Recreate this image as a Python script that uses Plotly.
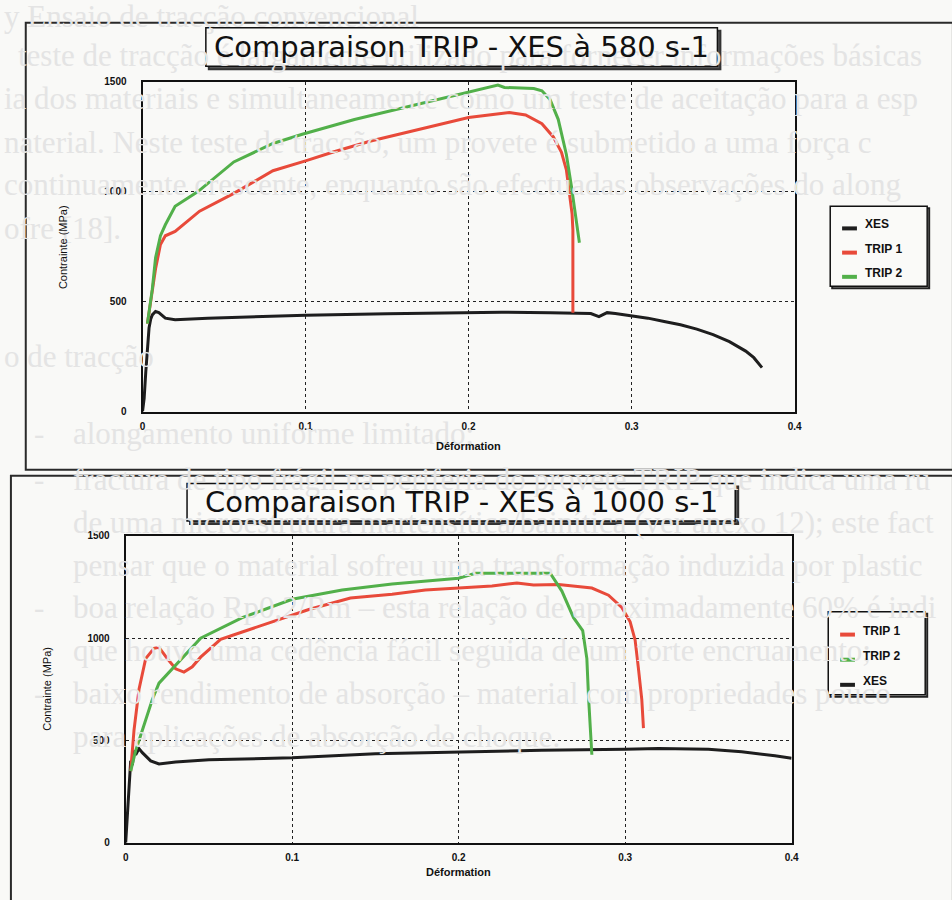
import plotly.graph_objects as go

# ---------------- data ----------------
# Top chart: 580 s-1
top_title = "Comparaison TRIP - XES à 580 s-1"
top_xes_x = [0, 0.001, 0.002, 0.003, 0.004, 0.005, 0.006, 0.008, 0.010, 0.014, 0.02, 0.04, 0.06, 0.1, 0.15,
             0.2, 0.22, 0.25, 0.27, 0.275, 0.28, 0.285, 0.29, 0.3, 0.31, 0.32, 0.33, 0.34, 0.35, 0.36, 0.37,
             0.375, 0.38]
top_xes_y = [0, 60, 180, 300, 380, 420, 440, 455, 450, 425, 418, 425, 430, 438, 445,
             452, 452, 449, 447, 446, 432, 450, 446, 436, 425, 410, 395, 375, 350, 318, 275,
             245, 200]
top_trip1_x = [0.003, 0.005, 0.008, 0.011, 0.014, 0.02, 0.035, 0.056, 0.08, 0.1, 0.117, 0.14, 0.17, 0.2,
               0.215, 0.225, 0.235, 0.245, 0.252, 0.257, 0.26, 0.262, 0.2635, 0.264, 0.264]
top_trip1_y = [400, 500, 650, 760, 800, 820, 912, 993, 1096, 1141, 1181, 1231, 1284, 1338,
               1352, 1361, 1350, 1310, 1250, 1180, 1100, 993, 900, 826, 450]
top_trip2_x = [0.003, 0.006, 0.008, 0.011, 0.014, 0.02, 0.034, 0.056, 0.08, 0.098, 0.13, 0.16, 0.2, 0.21,
               0.218, 0.222, 0.24, 0.245, 0.25, 0.255, 0.26, 0.263, 0.266, 0.268]
top_trip2_y = [400, 557, 700, 800, 850, 934, 1001, 1136, 1220, 1262, 1329, 1383, 1455, 1470,
               1486, 1475, 1470, 1460, 1420, 1330, 1170, 1030, 880, 768]

# Bottom chart: 1000 s-1
bot_title = "Comparaison TRIP - XES à 1000 s-1"
bot_trip1_x = [0.003, 0.005, 0.008, 0.012, 0.017, 0.02, 0.025, 0.03, 0.035, 0.04, 0.045, 0.057, 0.07, 0.09,
               0.11, 0.135, 0.16, 0.18, 0.2, 0.22, 0.235, 0.245, 0.26, 0.27, 0.28, 0.29, 0.298, 0.303,
               0.306, 0.308, 0.31, 0.311]
bot_trip1_y = [350, 550, 750, 900, 950, 955, 900, 850, 834, 860, 907, 994, 1030, 1085,
               1140, 1196, 1215, 1235, 1245, 1255, 1270, 1260, 1262, 1255, 1245, 1210, 1150, 1080,
               990, 850, 700, 560]
bot_trip2_x = [0.003, 0.006, 0.01, 0.016, 0.02, 0.03, 0.045, 0.07, 0.1, 0.13, 0.16, 0.2, 0.21, 0.23,
               0.255, 0.262, 0.269, 0.2745, 0.277, 0.278, 0.279, 0.28]
bot_trip2_y = [350, 450, 550, 700, 780, 870, 1000, 1100, 1190, 1235, 1265, 1293, 1317, 1317,
               1317, 1230, 1100, 1037, 900, 714, 560, 430]
bot_xes_x = [0, 0.001, 0.002, 0.003, 0.004, 0.005, 0.006, 0.008, 0.01, 0.015, 0.02, 0.03, 0.05, 0.1,
             0.15, 0.2, 0.25, 0.3, 0.32, 0.35, 0.37, 0.39, 0.4]
bot_xes_y = [0, 150, 300, 400, 380, 450, 430, 460, 440, 400, 385, 395, 405, 415,
             435, 444, 452, 457, 460, 457, 445, 425, 413]

x_tickvals = [0, 0.1, 0.2, 0.3, 0.4]
x_ticktext = ["0", "0.1", "0.2", "0.3", "0.4"]
y_tickvals = [0, 500, 1000, 1500]
y_ticktext = ["0", "500", "1000", "1500"]

series_names = ["XES", "TRIP 1", "TRIP 2"]
colors = {"XES": "#1e1e1e", "TRIP 1": "#e84a3a", "TRIP 2": "#52b04a"}

# faint text of the scanned document page behind the charts: (x, y, text)
background_lines = [
    (0, 11, "y Ensaio de tracção convencional"),
    (14, 50, "teste de tracção é largamente utilizado para fornecer informações básicas"),
    (0, 94, "ia dos materiais e simultaneamente como um teste de aceitação para a esp"),
    (0, 138, "naterial. Neste teste de tracção, um provete é submetido a uma força c"),
    (0, 181, "continuamente crescente, enquanto são efectuadas observações do along"),
    (0, 225, "ofre [18]."),
    (0, 355, "o de tracção"),
    (30, 433, "-"), (70, 433, "alongamento uniforme limitado;"),
    (30, 480, "-"), (70, 480, "fractura de tipo frágil na periferia do provete TRIP que indica uma ru"),
    (70, 523, "de uma microestrutura martensítica/bainítica (ver anexo 12); este fact"),
    (70, 567, "pensar que o material sofreu uma transformação induzida por plastic"),
    (30, 610, "-"), (70, 610, "boa relação Rp0,2/Rm – esta relação de aproximadamente 60% é indi"),
    (70, 653, "que houve uma cedência fácil seguida de um forte encruamento;"),
    (30, 697, "-"), (70, 697, "baixo rendimento de absorção – material com propriedades pouco"),
    (70, 740, "para aplicações de absorção de choque."),
]

W, H = 952, 900


def px(x):
    return x / W


def py(y):
    return 1 - y / H


fig = go.Figure()

panels = [
    dict(ax="", title=top_title,
         data={"XES": (top_xes_x, top_xes_y), "TRIP 1": (top_trip1_x, top_trip1_y),
               "TRIP 2": (top_trip2_x, top_trip2_y)},
         order=["XES", "TRIP 1", "TRIP 2"],
         plot=(141, 77, 800, 411), frame=(23, 17, 960, 470), tbox=(205, 22, 722, 61),
         legend=(836, 203, 934, 284), ytitle_x=60, xtitle_y=446),
    dict(ax="2", title=bot_title,
         data={"XES": (bot_xes_x, bot_xes_y), "TRIP 1": (bot_trip1_x, bot_trip1_y),
               "TRIP 2": (bot_trip2_x, bot_trip2_y)},
         order=["TRIP 1", "TRIP 2", "XES"],
         plot=(124, 537, 797, 848), frame=(8, 476, 960, 910), tbox=(186, 484, 740, 522),
         legend=(834, 614, 932, 698), ytitle_x=45, xtitle_y=878),
]

shapes = []
annotations = []

for (bx, by, txt) in background_lines:
    annotations.append(dict(x=px(bx), y=py(by), xref="paper", yref="paper", xanchor="left", yanchor="middle",
                            text=txt, showarrow=False, borderpad=0,
                            font=dict(family="Liberation Serif", size=31, color="#e4e4e4")))

for p in panels:
    ax = p["ax"]
    x0, y0, x1, y1 = p["plot"]
    for name in ["XES", "TRIP 1", "TRIP 2"]:
        xs, ys = p["data"][name]
        fig.add_trace(go.Scatter(x=xs, y=ys, mode="lines", name=name, showlegend=False,
                                 line=dict(color=colors[name], width=3),
                                 xaxis="x" + ax, yaxis="y" + ax))
    axis_common = dict(showline=True, mirror=True, linecolor="#111", linewidth=2,
                       showgrid=True, gridcolor="#222", gridwidth=1, griddash="dot",
                       zeroline=False, ticks="", fixedrange=True,
                       tickfont=dict(family="Liberation Sans", size=10, color="#111", weight="bold"))
    fig.update_layout({
        "xaxis" + ax: dict(axis_common, domain=[px(x0), px(x1)], range=[0, 0.4],
                           tickvals=x_tickvals, ticktext=x_ticktext, anchor="y" + ax,
                           ticklabelstandoff=4),
        "yaxis" + ax: dict(axis_common, domain=[py(y1), py(y0)], range=[0, 1500],
                           tickvals=y_tickvals, ticktext=y_ticktext, anchor="x" + ax,
                           ticklabelstandoff=12),
    })
    # outer frame (scanned figure border)
    fx0, fy0, fx1, fy1 = p["frame"]
    shapes.append(dict(type="rect", xref="paper", yref="paper", x0=px(fx0), y0=py(fy0), x1=px(fx1), y1=py(fy1),
                       line=dict(color="#2a2a2a", width=2), layer="below"))
    # title box with shadow
    tx0, ty0, tx1, ty1 = p["tbox"]
    shapes.append(dict(type="rect", xref="paper", yref="paper", x0=px(tx0 + 3), y0=py(ty0 + 3), x1=px(tx1 + 3),
                       y1=py(ty1 + 3), line=dict(color="#333", width=2), fillcolor="#555", layer="below"))
    shapes.append(dict(type="rect", xref="paper", yref="paper", x0=px(tx0), y0=py(ty0), x1=px(tx1), y1=py(ty1),
                       line=dict(color="#111", width=1.5), fillcolor="#fafaf8", layer="below"))
    annotations.append(dict(x=px((tx0 + tx1) / 2), y=py((ty0 + ty1) / 2), xref="paper", yref="paper",
                            text=p["title"], showarrow=False, xanchor="center", yanchor="middle",
                            font=dict(family="DejaVu Sans", size=29, color="#111")))
    # axis titles
    annotations.append(dict(x=px(p["ytitle_x"]), y=py((y0 + y1) / 2), xref="paper", yref="paper",
                            text="Contrainte (MPa)", textangle=-90, showarrow=False,
                            xanchor="center", yanchor="middle",
                            font=dict(family="Liberation Sans", size=11, color="#111")))
    annotations.append(dict(x=px((x0 + x1) / 2), y=py(p["xtitle_y"]), xref="paper", yref="paper",
                            text="Déformation", showarrow=False, xanchor="center", yanchor="middle",
                            font=dict(family="Liberation Sans", size=11, color="#111", weight="bold")))
    # legend box
    lx0, ly0, lx1, ly1 = p["legend"]
    shapes.append(dict(type="rect", xref="paper", yref="paper", x0=px(lx0 + 2), y0=py(ly0 + 2), x1=px(lx1 + 2),
                       y1=py(ly1 + 2), line=dict(color="#222", width=2), layer="below"))
    shapes.append(dict(type="rect", xref="paper", yref="paper", x0=px(lx0), y0=py(ly0), x1=px(lx1), y1=py(ly1),
                       line=dict(color="#111", width=1.5), fillcolor="#fafaf8", layer="below"))
    step = (ly1 - ly0) / 3.3
    for i, name in enumerate(p["order"]):
        yy = ly0 + step * (i + 0.75)
        shapes.append(dict(type="line", xref="paper", yref="paper", x0=px(lx0 + 12), x1=px(lx0 + 27),
                           y0=py(yy + 4), y1=py(yy + 4), line=dict(color=colors[name], width=4)))
        annotations.append(dict(x=px(lx0 + 33), y=py(yy), xref="paper", yref="paper", text=name,
                                showarrow=False, xanchor="left", yanchor="middle",
                                font=dict(family="Liberation Sans", size=12, color="#111", weight="bold")))

fig.update_layout(width=W, height=H, margin=dict(l=0, r=0, t=0, b=0),
                  paper_bgcolor="#f9f9f7", plot_bgcolor="rgba(0,0,0,0)",
                  showlegend=False, shapes=shapes, annotations=annotations)

fig.write_html("out.html", config={"displayModeBar": False},
               post_script="document.body.style.margin='0';document.body.style.overflow='hidden';")
